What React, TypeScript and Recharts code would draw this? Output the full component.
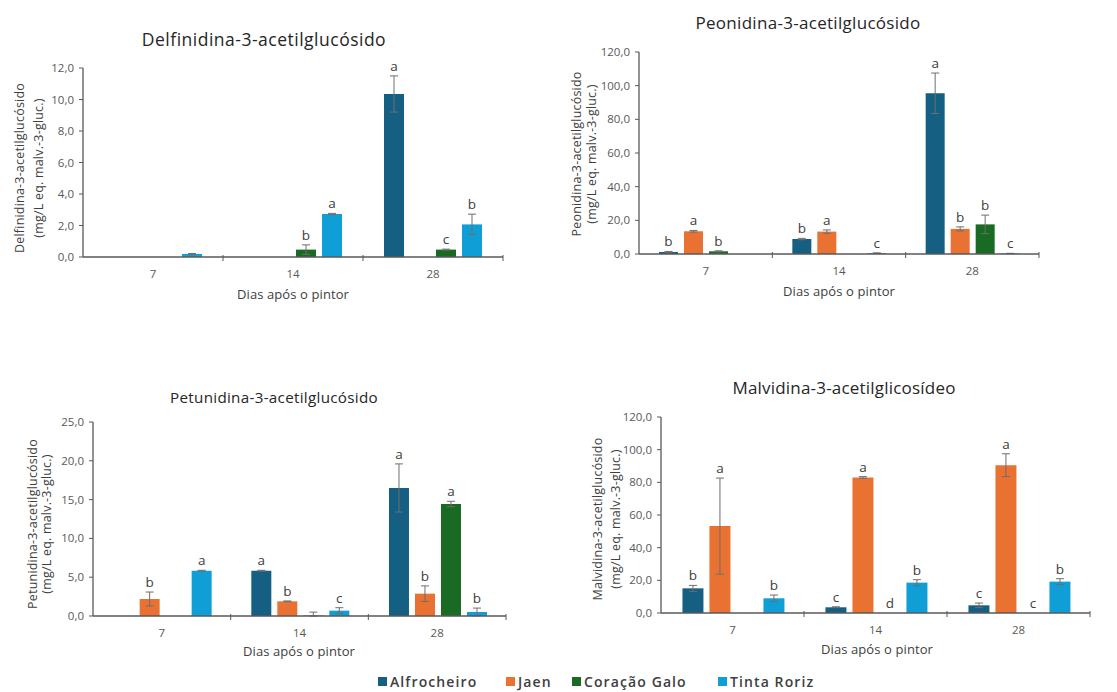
import React from 'react';
import { BarChart, Bar, XAxis, YAxis, ErrorBar, LabelList } from 'recharts';

const DAYS = ['7', '14', '28'];
const CULTIVARS = ['Alfrocheiro', 'Jaen', 'Coração Galo', 'Tinta Roriz'];
const COLORS = ['#156082', '#E97132', '#196B24', '#0F9ED5'];

// one row per cultivar, columns are 7, 14 and 28 days after veraison
const delfMean = [
  [0, 0, 10.35],
  [0, 0, 0],
  [0, 0.47, 0.47],
  [0.19, 2.73, 2.07],
];
const delfErr = [
  [0, 0, 1.15],
  [0, 0, 0],
  [0, 0.3, 0.03],
  [0.03, 0.04, 0.65],
];
const delfLetters = [
  ['', '', 'a'],
  ['', '', ''],
  ['', 'b', 'c'],
  ['', 'a', 'b'],
];
const delfTicks = [0, 2, 4, 6, 8, 10, 12];

const peoMean = [
  [1.2, 8.9, 95.5],
  [13.5, 13.3, 14.9],
  [1.6, 0, 17.6],
  [0, 0.5, 0.3],
];
const peoErr = [
  [0.3, 0.4, 12],
  [0.5, 1.0, 1.2],
  [0.3, 0, 5.5],
  [0, 0.2, 0.1],
];
const peoLetters = [
  ['b', 'b', 'a'],
  ['a', 'a', 'b'],
  ['b', '', 'b'],
  ['', 'c', 'c'],
];
const peoTicks = [0, 20, 40, 60, 80, 100, 120];

const petMean = [
  [0, 5.84, 16.5],
  [2.19, 1.89, 2.88],
  [0, 0.05, 14.43],
  [5.84, 0.69, 0.52],
];
const petErr = [
  [0, 0.05, 3.1],
  [0.9, 0.05, 1.0],
  [0, 0.45, 0.35],
  [0.05, 0.38, 0.5],
];
const petLetters = [
  ['', 'a', 'a'],
  ['b', 'b', 'b'],
  ['', '', 'a'],
  ['a', 'c', 'b'],
];
const petTicks = [0, 5, 10, 15, 20, 25];

const malvMean = [
  [15.1, 3.5, 4.7],
  [53.2, 83.0, 90.5],
  [0, 0, 0],
  [9.0, 18.6, 19.2],
];
const malvErr = [
  [1.8, 0.3, 1.4],
  [29.4, 0.5, 7.0],
  [0, 0, 0],
  [2.0, 1.8, 1.8],
];
const malvLetters = [
  ['b', 'c', 'c'],
  ['a', 'a', 'a'],
  ['', 'd', 'c'],
  ['b', 'b', 'b'],
];
const malvTicks = [0, 20, 40, 60, 80, 100, 120];

const FONT = '"Open Sans", "Noto Sans", Arial, sans-serif';
const AXIS = '#595959';
const TEXT = '#404040';

const fmt = (v: number) => v.toFixed(1).replace('.', ',');

const PANELS = [
  {
    title: 'Delfinidina-3-acetilglucósido',
    yTitle: 'Delfinidina-3-acetilglucósido',
    mean: delfMean, err: delfErr, letters: delfLetters, ticks: delfTicks, yMax: 12,
    left: 0, top: 0, width: 520, height: 310, yWidth: 40,
    margin: { top: 68, right: 17, bottom: 23, left: 43 },
    titleAt: [264, 39, 17.5, 0.5], yLabelX: [19, 38], yLabelY: 168, xTitleAt: [293, 295],
  },
  {
    title: 'Peonidina-3-acetilglucósido',
    yTitle: 'Peonidina-3-acetilglucósido',
    mean: peoMean, err: peoErr, letters: peoLetters, ticks: peoTicks, yMax: 120,
    left: 560, top: 0, width: 557, height: 310, yWidth: 45,
    margin: { top: 52, right: 78, bottom: 26, left: 34 },
    titleAt: [808, 23, 17, 0.3], yLabelX: [576, 591], yLabelY: 154, xTitleAt: [839, 292],
  },
  {
    title: 'Petunidina-3-acetilglucósido',
    yTitle: 'Petunidina-3-acetilglucósido',
    mean: petMean, err: petErr, letters: petLetters, ticks: petTicks, yMax: 25,
    left: 0, top: 330, width: 530, height: 330, yWidth: 40,
    margin: { top: 92, right: 24, bottom: 14, left: 53 },
    titleAt: [274, 397, 15.2, 0.3], yLabelX: [32, 46], yLabelY: 524, xTitleAt: [299, 652],
  },
  {
    title: 'Malvidina-3-acetilglicosídeo',
    yTitle: 'Malvidina-3-acetilglucósido',
    mean: malvMean, err: malvErr, letters: malvLetters, ticks: malvTicks, yMax: 120,
    left: 560, top: 360, width: 557, height: 300, yWidth: 45,
    margin: { top: 57, right: 27, bottom: 17, left: 56 },
    titleAt: [844, 388, 17, 0.2], yLabelX: [597, 615], yLabelY: 519, xTitleAt: [877, 650],
  },
];

const LEGEND_X = [378, 506, 572, 718];

function buildRows(mean: number[][], err: number[][], letters: string[][]) {
  return DAYS.map((day, d) => {
    const row: any = { day };
    CULTIVARS.forEach((_, s) => {
      const m = mean[s][d];
      const e = err[s][d];
      row[`m${s}`] = m;
      // no whisker when there is no spread; lower whisker never goes below zero
      row[`e${s}`] = e > 0 ? [Math.min(e, m), e] : 0;
      row[`t${s}`] = m + e;
      row[`l${s}`] = letters[s][d];
    });
    return row;
  });
}

// label value carries the letter and the top of the whisker: "a|11.5"
const letterKey = (s: number) => (row: any) =>
  row[`l${s}`] ? `${row[`l${s}`]}|${row[`t${s}`]}` : '';

// significance letter sitting just above the top of the error bar
const letterLabel = (yMax: number, plotTop: number) => (props: any) => {
  const { value } = props;
  if (!value) return null;
  const [letter, top] = String(value).split('|');
  const vb = props.viewBox ?? props;
  const x = Number(vb.x);
  const y = Number(vb.y);
  const w = Number(vb.width);
  const h = Number(vb.height);
  const base = Math.max(y, y + h);
  const k = (base - plotTop) / yMax;
  const ty = base - Number(top) * k - 5;
  return (
    <text x={x + w / 2} y={ty} textAnchor="middle" fontSize={13.5} fill={TEXT} fontFamily={FONT}>
      {letter}
    </text>
  );
};

const DayTick = (band: number) => (props: any) => {
  const { x, y, payload, index } = props;
  const half = payload?.offset ?? band / 2;
  const last = index === DAYS.length - 1;
  return (
    <g>
      {index > 0 && <line x1={x - half} x2={x - half} y1={y - 2} y2={y + 4} stroke={AXIS} strokeWidth={1} />}
      {last && <line x1={x + half} x2={x + half} y1={y - 2} y2={y + 4} stroke={AXIS} strokeWidth={1} />}
      <text x={x} y={y + 21} textAnchor="middle" fontSize={11.5} fill={AXIS} fontFamily={FONT}>
        {payload.value}
      </text>
    </g>
  );
};

function Panel({ p }: { p: (typeof PANELS)[number] }) {
  const rows = buildRows(p.mean, p.err, p.letters);
  const band = (p.width - p.margin.left - p.margin.right - p.yWidth) / DAYS.length;
  return (
    <div style={{ position: 'absolute', left: p.left, top: p.top, width: p.width, height: p.height }}>
      <BarChart
        width={p.width}
        height={p.height}
        data={rows}
        margin={p.margin}
        barCategoryGap="15%"
        barGap={6}
      >
        <XAxis
          dataKey="day"
          height={30}
          interval={0}
          tickLine={false}
          tickSize={0}
          tickMargin={0}
          axisLine={{ stroke: AXIS, strokeWidth: 1.3 }}
          tick={DayTick(band)}
        />
        <YAxis
          width={p.yWidth}
          domain={[0, p.yMax]}
          ticks={p.ticks}
          interval={0}
          tickFormatter={fmt}
          tickSize={4}
          tickMargin={5}
          tickLine={{ stroke: AXIS }}
          axisLine={{ stroke: AXIS, strokeWidth: 1.3 }}
          tick={{ fontSize: 11.5, fill: AXIS, fontFamily: FONT }}
        />
        {CULTIVARS.map((name, s) => (
          <Bar
            key={name}
            dataKey={`m${s}`}
            name={name}
            fill={COLORS[s]}
            minPointSize={0.01}
            isAnimationActive={false}
          >
            <ErrorBar dataKey={`e${s}`} width={4} stroke="#6e6e6e" strokeWidth={1} direction="y" />
            <LabelList dataKey={letterKey(s)} content={letterLabel(p.yMax, p.margin.top)} />
          </Bar>
        ))}
      </BarChart>
    </div>
  );
}

function Centered({ x, y, size, color, rotate, spacing = 0, children }: any) {
  return (
    <div
      style={{
        position: 'absolute',
        left: x,
        top: y,
        transform: `translate(-50%, -50%)${rotate ? ' rotate(-90deg)' : ''}`,
        whiteSpace: 'nowrap',
        fontSize: size,
        letterSpacing: spacing,
        color,
        lineHeight: 1.2,
      }}
    >
      {children}
    </div>
  );
}

export default function App() {
  return (
    <div
      style={{
        position: 'absolute',
        left: 0,
        top: 0,
        width: 1117,
        height: 692,
        background: '#fff',
        fontFamily: FONT,
        overflow: 'hidden',
      }}
    >
      {PANELS.map((p) => (
        <Panel key={p.title} p={p} />
      ))}
      {PANELS.map((p) => (
        <React.Fragment key={`t-${p.title}`}>
          <Centered x={p.titleAt[0]} y={p.titleAt[1]} size={p.titleAt[2]} spacing={p.titleAt[3]} color="#262626">
            {p.title}
          </Centered>
          <Centered x={p.yLabelX[0]} y={p.yLabelY} size={12.5} spacing={0.2} color={TEXT} rotate>
            {p.yTitle}
          </Centered>
          <Centered x={p.yLabelX[1]} y={p.yLabelY} size={12.5} spacing={0.2} color={TEXT} rotate>
            (mg/L eq. malv.-3-gluc.)
          </Centered>
          <Centered x={p.xTitleAt[0]} y={p.xTitleAt[1]} size={13} spacing={0.1} color={TEXT}>
            Dias após o pintor
          </Centered>
        </React.Fragment>
      ))}
      {CULTIVARS.map((name, s) => (
        <div
          key={name}
          style={{
            position: 'absolute',
            left: LEGEND_X[s],
            top: 673,
            height: 17,
            display: 'flex',
            alignItems: 'center',
            gap: 3,
            fontSize: 14,
            fontWeight: 600,
            letterSpacing: 1.1,
            lineHeight: '17px',
            color: TEXT,
            whiteSpace: 'nowrap',
          }}
        >
          <span style={{ width: 9, height: 9, background: COLORS[s], display: 'inline-block' }} />
          <span>{name}</span>
        </div>
      ))}
    </div>
  );
}
